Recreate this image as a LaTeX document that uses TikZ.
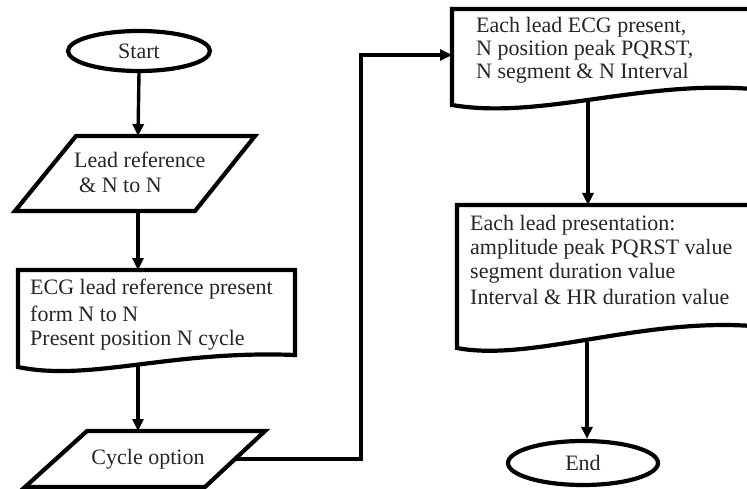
\documentclass[tikz,border=0pt]{standalone}
\usepackage{fontspec}
\setmainfont{Liberation Serif}
\usetikzlibrary{arrows.meta,shapes.geometric}
\begin{document}
\begin{tikzpicture}[x=1pt,y=-1pt,
  shp/.style={draw=black, line width=4.2pt, line join=miter, fill=white},
  conn/.style={draw=black, line width=3.4pt, -{Triangle[width=11pt,length=12pt]}},
  txt/.style={font=\fontsize{22}{25}\selectfont, inner sep=0pt, align=left, anchor=west, text=black!85}]
\useasboundingbox (0,0) rectangle (747,489);
\fill[white] (0,0) rectangle (747,489);

% ---- left column ----
\node[shp, ellipse, minimum width=142pt, minimum height=40pt, inner sep=0pt,
      font=\fontsize{22}{25}\selectfont, text=black!85] (start) at (139,51) {Start};

\draw[shp] (76,136) -- (255,136) -- (195,211) -- (15,211) -- cycle;
\coordinate (p1t) at (138,136);
\coordinate (p1b) at (138,211);
\node[txt] (t1a) at (74,160) {Lead reference};
\node[txt] (t1b) at (79,185) {\& N to N};

\draw[shp] (18,270) -- (295,270) -- (295,355)
  .. controls (170,350) and (90,382) .. (18,367) -- cycle;
\coordinate (d1t) at (138,270);
\coordinate (d1b) at (138,365);
\node[txt] (t2a) at (30,289) {ECG lead reference present};
\node[txt] (t2b) at (30,314) {form N to N};
\node[txt] (t2c) at (30,340) {Present position N cycle};

\draw[shp] (87,431) -- (265,431) -- (205,487) -- (25,487) -- cycle;
\coordinate (p2t) at (138,431);
\coordinate (p2r) at (235,459);
\node[txt, anchor=center] (t3) at (148,459) {Cycle option};

% ---- right column ----
\draw[shp] (452,9) -- (752,9) -- (752,89)
  .. controls (640,80) and (540,120) .. (452,105) -- cycle;
\coordinate (d2l) at (452,55);
\coordinate (d2b) at (588,98);
\node[txt] (t4a) at (476,27) {Each lead ECG present,};
\node[txt] (t4b) at (476,50) {N position peak PQRST,};
\node[txt] (t4c) at (476,73) {N segment \& N Interval};

\draw[shp] (457,205) -- (752,205) -- (752,326)
  .. controls (640,318) and (530,362) .. (457,348) -- cycle;
\coordinate (d3t) at (588,205);
\coordinate (d3b) at (587,342);
\node[txt] (t5a) at (470,225) {Each lead presentation:};
\node[txt] (t5b) at (470,249) {amplitude peak PQRST value};
\node[txt] (t5c) at (470,273) {segment duration value};
\node[txt] (t5d) at (470,297) {Interval \& HR duration value};

\node[shp, ellipse, minimum width=150pt, minimum height=44pt, inner sep=0pt,
      font=\fontsize{22}{25}\selectfont, text=black!85] (end) at (583,463) {End};

% ---- connectors ----
\draw[conn] (start.south) -- (p1t);
\draw[conn] (p1b) -- (d1t);
\draw[conn] (d1b) -- (p2t);
\coordinate (c1) at (361,459);
\coordinate (c2) at (361,55);
\draw[conn] (p2r) -- (c1) -- (c2) -- (d2l);
\draw[conn] (d2b) -- (d3t);
\draw[conn] (d3b) -- (end.north -| d3b);
\end{tikzpicture}
\end{document}
